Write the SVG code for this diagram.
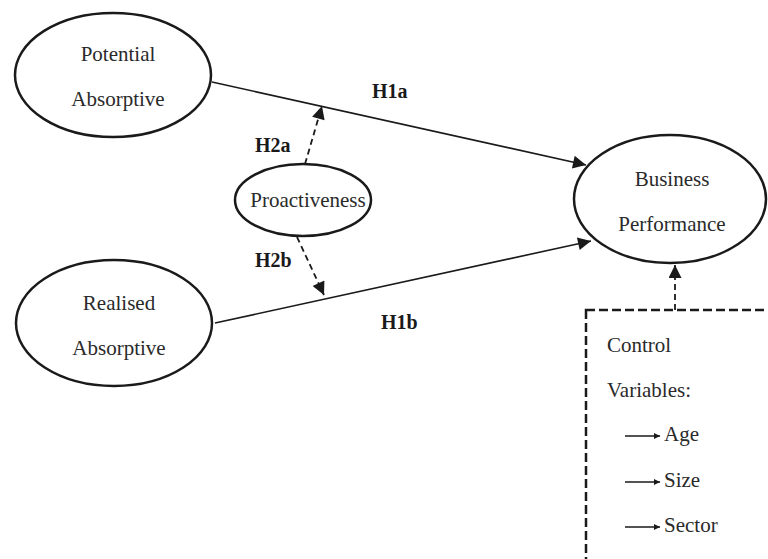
<svg xmlns="http://www.w3.org/2000/svg" width="768" height="559" viewBox="0 0 768 559">
  <style>
    .node { fill: #ffffff; stroke: #1a1a1a; stroke-width: 2.5; }
    .lbl { font-family: "Liberation Serif", "Times New Roman", serif; font-size: 21px; fill: #2a2a2a; text-anchor: middle; }
    .hyp { font-family: "Liberation Serif", "Times New Roman", serif; font-size: 20px; font-weight: bold; fill: #1a1a1a; }
    .ctl { font-family: "Liberation Serif", "Times New Roman", serif; font-size: 21px; fill: #2a2a2a; }
    .edge { stroke: #1a1a1a; stroke-width: 1.6; fill: none; }
    .dash { stroke: #1a1a1a; stroke-width: 1.8; fill: none; stroke-dasharray: 6 4; }
    .box { stroke: #1a1a1a; stroke-width: 2.5; fill: none; stroke-dasharray: 9 4; }
  </style>
  <defs>
    <marker id="head" viewBox="0 0 10 10" refX="10" refY="5" markerWidth="18" markerHeight="13" markerUnits="userSpaceOnUse" orient="auto">
      <path d="M0,0 L10,5 L0,10 Z" fill="#1a1a1a"/>
    </marker>
    <marker id="small" viewBox="0 0 10 10" refX="10" refY="5" markerWidth="6" markerHeight="6" markerUnits="userSpaceOnUse" orient="auto">
      <path d="M0,0 L10,5 L0,10 Z" fill="#1a1a1a"/>
    </marker>
  </defs>

  <rect width="768" height="559" fill="#ffffff"/>

  <g id="connectors">
    <line class="edge" x1="212" y1="82" x2="586" y2="165" marker-end="url(#head)"/>
    <line class="edge" x1="215" y1="323" x2="591" y2="241" marker-end="url(#head)"/>
    <line class="dash" x1="305" y1="164" x2="322" y2="106" marker-end="url(#head)"/>
    <line class="dash" x1="297" y1="237" x2="324" y2="295" marker-end="url(#head)"/>
    <line class="dash" x1="675" y1="310" x2="675" y2="265" marker-end="url(#head)"/>
  </g>

  <g id="potential-absorptive">
    <ellipse class="node" cx="113" cy="75" rx="98" ry="62"/>
    <text class="lbl" x="118" y="61">Potential</text>
    <text class="lbl" x="118" y="106">Absorptive</text>
  </g>

  <g id="realised-absorptive">
    <ellipse class="node" cx="114" cy="323" rx="98" ry="63"/>
    <text class="lbl" x="119" y="310">Realised</text>
    <text class="lbl" x="119" y="355">Absorptive</text>
  </g>

  <g id="proactiveness">
    <ellipse class="node" cx="303" cy="200" rx="68" ry="36"/>
    <text class="lbl" x="308" y="207">Proactiveness</text>
  </g>

  <g id="business-performance">
    <ellipse class="node" cx="670" cy="199" rx="96" ry="64"/>
    <text class="lbl" x="672" y="186">Business</text>
    <text class="lbl" x="672" y="231">Performance</text>
  </g>

  <g id="hypotheses">
    <text class="hyp" x="372" y="98">H1a</text>
    <text class="hyp" x="255" y="152">H2a</text>
    <text class="hyp" x="255" y="267">H2b</text>
    <text class="hyp" x="381" y="329">H1b</text>
  </g>

  <g id="control-variables">
    <rect class="box" x="586" y="310" width="300" height="400"/>
    <text class="ctl" x="607" y="352">Control</text>
    <text class="ctl" x="607" y="397">Variables:</text>
    <line class="edge" x1="625" y1="436" x2="660" y2="436" stroke-width="1.3" marker-end="url(#small)"/>
    <text class="ctl" x="664" y="441">Age</text>
    <line class="edge" x1="625" y1="482" x2="660" y2="482" stroke-width="1.3" marker-end="url(#small)"/>
    <text class="ctl" x="664" y="487">Size</text>
    <line class="edge" x1="625" y1="527" x2="660" y2="527" stroke-width="1.3" marker-end="url(#small)"/>
    <text class="ctl" x="664" y="532">Sector</text>
  </g>
</svg>
